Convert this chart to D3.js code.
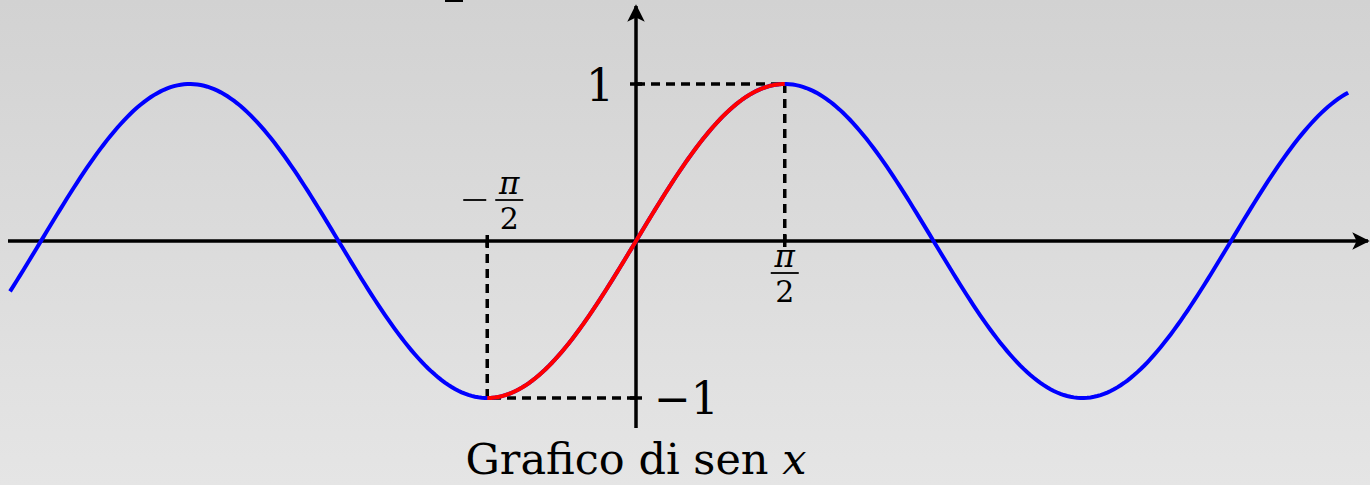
<!doctype html>
<html lang="it">
<head>
  <meta charset="UTF-8">
  <title>Grafico di sen x</title>
<style>
  html, body { margin: 0; padding: 0; }
  body { width: 1370px; height: 485px; overflow: hidden; }
</style>
</head>
<body>
<script src="https://d3js.org/d3.v7.min.js"></script>
<script>
var width = 1370, height = 485;
var serif = "DejaVu Serif";

// curve range and marked points
var curveStart = -6.61, curveEnd = 7.52;
var redStart = -Math.PI / 2, redEnd = Math.PI / 2;
var yTicks = [1, -1];
var guideX = [-Math.PI / 2, Math.PI / 2];

var x = d3.scaleLinear().domain([0, 1]).range([636, 636 + 94.7]);
var y = d3.scaleLinear().domain([-1, 1]).range([398, 84]);

var svg = d3.select("body").append("svg")
    .attr("width", width)
    .attr("height", height)
    .style("font-family", serif);

var defs = svg.append("defs");
var grad = defs.append("linearGradient")
    .attr("id", "bg").attr("x1", 0).attr("y1", 0).attr("x2", 0).attr("y2", 1);
grad.append("stop").attr("offset", "0%").attr("stop-color", "#d2d2d2");
grad.append("stop").attr("offset", "100%").attr("stop-color", "#e5e5e5");

defs.append("marker")
    .attr("id", "arrow")
    .attr("viewBox", "0 0 10 10")
    .attr("refX", 9).attr("refY", 5)
    .attr("markerWidth", 5).attr("markerHeight", 5)
    .attr("markerUnits", "strokeWidth")
    .attr("orient", "auto")
  .append("path")
    .attr("d", "M0,0 L10,5 L0,10 L2.5,5 Z")
    .attr("fill", "#000");

svg.append("rect").attr("width", width).attr("height", height).attr("fill", "url(#bg)");

// clipped glyph at top
svg.append("rect").attr("x", 445).attr("y", 0).attr("width", 18).attr("height", 2).attr("fill", "#000");

// dashed guides
var guides = svg.append("g")
    .attr("stroke", "#000")
    .attr("stroke-width", 3.5)
    .attr("stroke-dasharray", "9,6")
    .attr("fill", "none");

guideX.forEach(function(v) {
  var s = Math.sin(v);
  guides.append("line")
      .attr("x1", x(0)).attr("y1", y(s))
      .attr("x2", x(v)).attr("y2", y(s));
  guides.append("line")
      .attr("x1", x(v)).attr("y1", y(s))
      .attr("x2", x(v)).attr("y2", y(0));
});

// axes
svg.append("line")
    .attr("x1", 8).attr("y1", y(0))
    .attr("x2", 1368).attr("y2", y(0))
    .attr("stroke", "#000").attr("stroke-width", 3.5)
    .attr("marker-end", "url(#arrow)");

svg.append("line")
    .attr("x1", x(0)).attr("y1", 428)
    .attr("x2", x(0)).attr("y2", 6)
    .attr("stroke", "#000").attr("stroke-width", 3.5)
    .attr("marker-end", "url(#arrow)");

// tick marks
guideX.forEach(function(v) {
  svg.append("line")
      .attr("x1", x(v)).attr("x2", x(v))
      .attr("y1", y(0) - 6).attr("y2", y(0) + 6)
      .attr("stroke", "#000").attr("stroke-width", 3.5);
});
yTicks.forEach(function(v) {
  svg.append("line")
      .attr("x1", x(0) - 6).attr("x2", x(0) + 6)
      .attr("y1", y(v)).attr("y2", y(v))
      .attr("stroke", "#000").attr("stroke-width", 3.5);
});

// sine curve
function samples(a, b) {
  var n = 400, pts = [];
  for (var i = 0; i <= n; i++) {
    var t = a + (b - a) * i / n;
    pts.push([t, Math.sin(t)]);
  }
  return pts;
}
var line = d3.line()
    .x(function(d) { return x(d[0]); })
    .y(function(d) { return y(d[1]); });

svg.append("path")
    .datum(samples(curveStart, curveEnd))
    .attr("d", line)
    .attr("fill", "none").attr("stroke", "#0000ff").attr("stroke-width", 4);

svg.append("path")
    .datum(samples(redStart, redEnd))
    .attr("d", line)
    .attr("fill", "none").attr("stroke", "#ff0000").attr("stroke-width", 4);

// y tick labels
svg.append("text")
    .attr("x", x(0) - 22).attr("y", y(1) + 17)
    .attr("text-anchor", "end")
    .attr("font-size", 44)
    .text("1");
svg.append("text")
    .attr("x", x(0) + 18).attr("y", y(-1) + 16)
    .attr("text-anchor", "start")
    .attr("font-size", 44)
    .text("\u22121");

// fraction labels
function fraction(cx, top, minus) {
  var g = svg.append("g");
  g.append("text").attr("x", cx).attr("y", top + 23)
      .attr("text-anchor", "middle").attr("font-size", 31).attr("font-style", "italic")
      .text("\u03c0");
  g.append("line").attr("x1", cx - 14).attr("x2", cx + 14)
      .attr("y1", top + 29).attr("y2", top + 29)
      .attr("stroke", "#000").attr("stroke-width", 1.8);
  g.append("text").attr("x", cx).attr("y", top + 58)
      .attr("text-anchor", "middle").attr("font-size", 30)
      .text("2");
  if (minus) {
    g.append("line").attr("x1", cx - 46).attr("x2", cx - 23)
        .attr("y1", top + 29).attr("y2", top + 29)
        .attr("stroke", "#000").attr("stroke-width", 1.8);
  }
}
fraction(x(-Math.PI / 2) + 22, 171, true);
fraction(x(Math.PI / 2), 244, false);

// title
var title = svg.append("text")
    .attr("x", x(0)).attr("y", 474)
    .attr("text-anchor", "middle")
    .attr("font-size", 43);
title.append("tspan").text("Grafico di sen ");
title.append("tspan").attr("font-style", "italic").text("x");
</script>
</body>
</html>
